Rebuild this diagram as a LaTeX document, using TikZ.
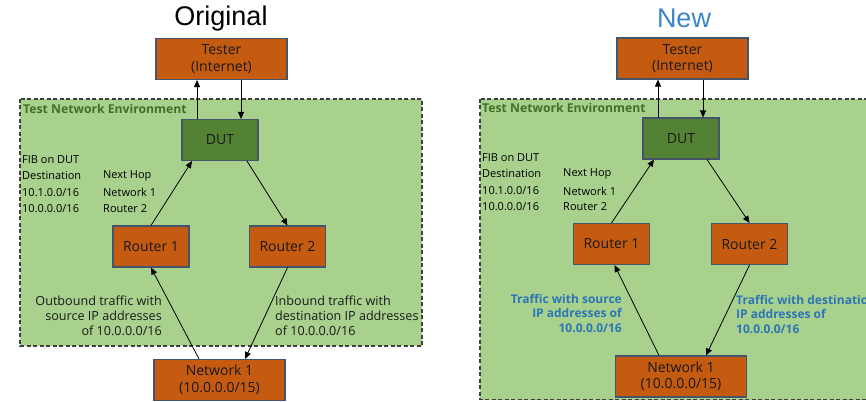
\documentclass[tikz,border=0pt]{standalone}
\usepackage{fontspec}
\setmainfont{Open Sans}
\newfontfamily\titlefont{Liberation Sans}
\usetikzlibrary{arrows.meta,calc}
\definecolor{orangebox}{HTML}{C55A11}
\definecolor{boxline}{HTML}{44546A}
\definecolor{dutgreen}{HTML}{548235}
\definecolor{envgreen}{HTML}{A9D18E}
\definecolor{envtext}{HTML}{3F7127}
\definecolor{dashgray}{HTML}{404040}
\definecolor{lblblue}{HTML}{2E75B6}
\definecolor{ttlblue}{HTML}{3C85C6}
\tikzset{
  box/.style={draw=boxline, line width=1.1pt, fill=orangebox, inner sep=0pt,
    align=center, font=\fontsize{14}{16.5}\selectfont, text=black!90},
  wbox/.style={box, minimum width=131pt, minimum height=41pt},
  rbox/.style={box, minimum width=76pt, minimum height=41pt},
  dutbox/.style={rbox, fill=dutgreen},
  env/.style={fill=envgreen, draw=dashgray, line width=1.1pt, dash pattern=on 4pt off 2.5pt},
  envlabel/.style={anchor=west, inner sep=0pt, text=envtext, font=\bfseries\fontsize{12.2}{14}\selectfont},
  fib/.style={anchor=west, inner sep=0pt, font=\fontsize{11}{13}\selectfont, text=black},
  arr/.style={-{Triangle[length=7pt,width=6pt]}, line width=0.8pt, black},
  lbl/.style={inner sep=0pt, font=\fontsize{12.6}{15}\selectfont, text=black!90},
  blbl/.style={inner sep=0pt, font=\bfseries\fontsize{12}{14.5}\selectfont, text=lblblue},
  ttl/.style={anchor=base, inner sep=0pt, font=\titlefont\fontsize{27}{30}\selectfont}
}
\begin{document}
\begin{tikzpicture}[x=1pt,y=-1pt]
\useasboundingbox (0,0) rectangle (866,401);
\clip (0,0) rectangle (866,401);
\fill[white] (0,0) rectangle (866,401);
% ---------- Left panel ----------
\node[ttl] (tA) at (221,26) {Original};
\path[env] (20,99) rectangle (422,346);
\node[envlabel] (envA) at (23,109) {Test Network Environment};
\node[wbox] (testA) at (221.5,59) {Tester\\(Internet)};
\node[dutbox] (dutA) at (220,140) {DUT};
\node[rbox] (r1A) at (151,246.5) {Router 1};
\node[rbox] (r2A) at (287.5,246.5) {Router 2};
\node[wbox] (netA) at (219.5,380) {Network 1\\(10.0.0.0/15)};
\node[fib] (fA1) at (22,160) {FIB on DUT};
\node[fib] (fA2) at (22,176) {Destination};
\node[fib] (fA3) at (22,192.5) {10.1.0.0/16};
\node[fib] (fA4) at (22,208.5) {10.0.0.0/16};
\node[fib] (fA5) at (103,176) {Next Hop};
\node[fib] (fA6) at (103,192.5) {Network 1};
\node[fib] (fA7) at (103,208.5) {Router 2};
\draw[arr] ([xshift=-23pt]dutA.north) -- ([xshift=-23pt]dutA.north |- testA.south);
\draw[arr] ([xshift=21pt]dutA.north |- testA.south) -- ([xshift=21pt]dutA.north);
\draw[arr] (r1A.north) -- ([xshift=-28pt]dutA.south);
\draw[arr] ([xshift=27pt]dutA.south) -- (r2A.north);
\draw[arr] ([xshift=-20.5pt]netA.north) -- (r1A.south);
\draw[arr] (r2A.south) -- ([xshift=25.5pt]netA.north);
\node[lbl, anchor=east, align=right] (lA) at (162,316) {Outbound traffic with\\source IP addresses\\of 10.0.0.0/16};
\node[lbl, anchor=west, align=left] (rA) at (275,316) {Inbound traffic with\\destination IP addresses\\of 10.0.0.0/16};
% ---------- Right panel ----------
\node[ttl, text=ttlblue] (tB) at (684,28) {New};
\path[env] (480,99) rectangle (900,399.5);
\node[envlabel] (envB) at (482,108) {Test Network Environment};
\node[wbox] (testB) at (682.5,58.5) {Tester\\(Internet)};
\node[dutbox] (dutB) at (681,138.5) {DUT};
\node[rbox] (r1B) at (611.5,244) {Router 1};
\node[rbox] (r2B) at (749.5,244) {Router 2};
\node[wbox] (netB) at (681,376.5) {Network 1\\(10.0.0.0/15)};
\node[fib] (fB1) at (482,158) {FIB on DUT};
\node[fib] (fB2) at (482,174) {Destination};
\node[fib] (fB3) at (482,191) {10.1.0.0/16};
\node[fib] (fB4) at (482,207) {10.0.0.0/16};
\node[fib] (fB5) at (563,174) {Next Hop};
\node[fib] (fB6) at (563,191) {Network 1};
\node[fib] (fB7) at (563,207) {Router 2};
\draw[arr] ([xshift=-23pt]dutB.north) -- ([xshift=-23pt]dutB.north |- testB.south);
\draw[arr] ([xshift=22pt]dutB.north |- testB.south) -- ([xshift=22pt]dutB.north);
\draw[arr] (r1B.north) -- ([xshift=-27pt]dutB.south);
\draw[arr] ([xshift=26pt]dutB.south) -- (r2B.north);
\draw[arr] ([xshift=-22pt]netB.north) -- ([xshift=3pt]r1B.south);
\draw[arr] (r2B.south) -- ([xshift=25pt]netB.north);
\node[blbl, anchor=east, align=right] (lB) at (622,313) {Traffic with source\\IP addresses of\\10.0.0.0/16};
\node[blbl, anchor=west, align=left] (rB) at (736,314) {Traffic with destination\\IP addresses of\\10.0.0.0/16};
\end{tikzpicture}
\end{document}
